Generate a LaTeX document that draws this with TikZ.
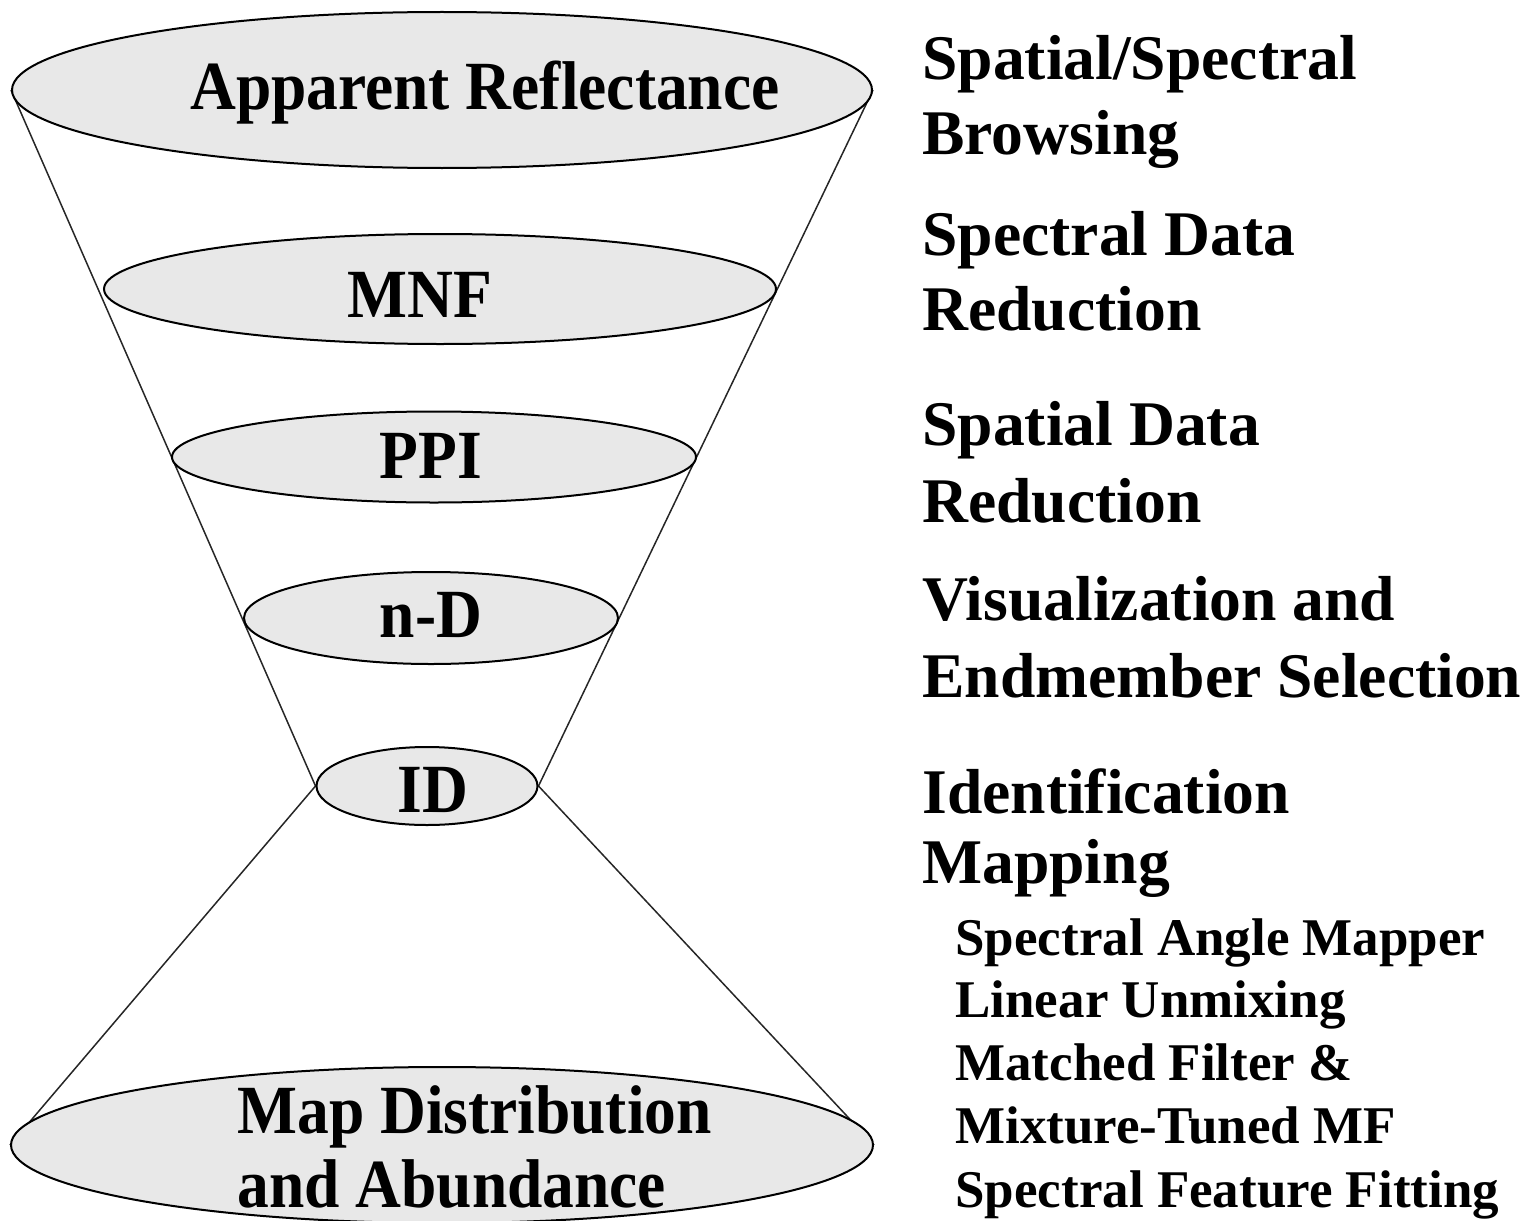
\documentclass[tikz,border=0pt]{standalone}
\usepackage{fontspec}
\setmainfont{Liberation Serif}
\newfontfamily\ellfont[FakeStretch=0.92]{Liberation Serif}
\usetikzlibrary{shapes.geometric,backgrounds}

\tikzset{
  stage/.style={ellipse, draw=black, line width=1pt, fill=ellgray, inner sep=0pt},
  stagelabel/.style={inner sep=0pt, anchor=base, font=\ellfont\bfseries\fontsize{34.5}{37}\selectfont},
  stageleft/.style={stagelabel, anchor=base west},
  steptext/.style={inner sep=0pt, anchor=base west, font=\bfseries\fontsize{31.8}{37}\selectfont},
  subtext/.style={inner sep=0pt, anchor=base west, font=\bfseries\fontsize{26.5}{31}\selectfont},
  funnel/.style={draw=black!85, line width=0.75pt}
}
\definecolor{ellgray}{HTML}{E8E8E8}

\begin{document}
\begin{tikzpicture}[x=0.5pt, y=-0.5pt]
  \useasboundingbox (0,0) rectangle (1524,1220);

  % stages of the funnel
  \node[stage, minimum width=430pt, minimum height=78pt]   (e1) at (442,90)   {};
  \node[stage, minimum width=336pt, minimum height=55pt]   (e2) at (440,289)  {};
  \node[stage, minimum width=262pt, minimum height=45.5pt] (e3) at (434,457)  {};
  \node[stage, minimum width=187pt, minimum height=46pt]   (e4) at (431,618)  {};
  \node[stage, minimum width=110.5pt, minimum height=39pt] (e5) at (427,786)  {};
  \node[stage, minimum width=431pt, minimum height=78pt]   (e6) at (442,1145) {};

  % funnel outline behind the stages
  \begin{scope}[on background layer]
    \draw[funnel] (e1.west) -- (e5.west) -- (e6.west);
    \draw[funnel] (e1.east) -- (e5.east) -- (e6.east);
  \end{scope}

  % stage labels
  \node[stagelabel] (l1) at (485,110) {Apparent Reflectance};
  \node[stagelabel] (l2) at (420,317) {MNF};
  \node[stagelabel] (l3) at (431,478) {PPI};
  \node[stagelabel] (l4) at (431,637) {n-D};
  \node[stagelabel] (l5) at (433,812) {ID};
  \node[stageleft]  (l6a) at (237,1133) {Map Distribution};
  \node[stageleft]  (l6b) at (237,1207) {and Abundance};

  % processing steps
  \node[steptext] (r1a) at (922,80)  {Spatial/Spectral};
  \node[steptext] (r1b) at (922,155) {Browsing};
  \node[steptext] (r2a) at (922,255) {Spectral Data};
  \node[steptext] (r2b) at (922,330) {Reduction};
  \node[steptext] (r3a) at (922,445) {Spatial Data};
  \node[steptext] (r3b) at (922,522) {Reduction};
  \node[steptext] (r4a) at (922,620) {Visualization and};
  \node[steptext] (r4b) at (922,697) {Endmember Selection};
  \node[steptext] (r5a) at (922,813) {Identification};
  \node[steptext] (r5b) at (922,883) {Mapping};

  % mapping methods
  \node[subtext] (m1) at (955,955)  {Spectral Angle Mapper};
  \node[subtext] (m2) at (955,1017) {Linear Unmixing};
  \node[subtext] (m3) at (955,1080) {Matched Filter \&};
  \node[subtext] (m4) at (955,1143) {Mixture-Tuned MF};
  \node[subtext] (m5) at (955,1207) {Spectral Feature Fitting};
\end{tikzpicture}
\end{document}
